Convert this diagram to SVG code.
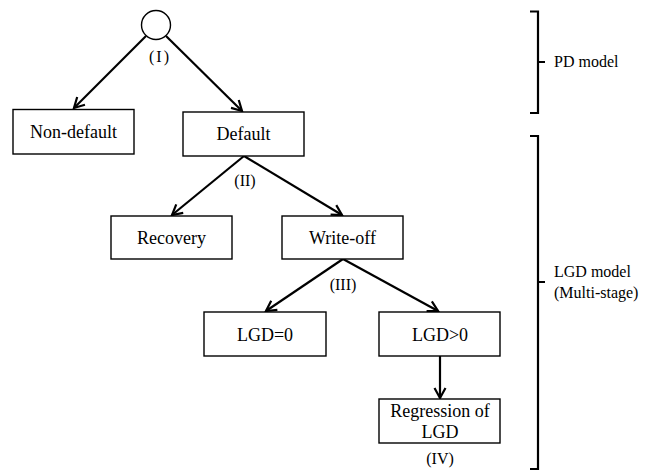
<svg xmlns="http://www.w3.org/2000/svg" width="653" height="474" viewBox="0 0 653 474">
<style>
.box{fill:#fff;stroke:#000;stroke-width:1.4}
text{font-family:"Liberation Serif","Times New Roman",Times,"DejaVu Serif",serif;fill:#000}
.t{font-size:18px;text-anchor:middle}
.lbl{font-size:16px;text-anchor:middle}
.side{font-size:16px}
.arr{stroke:#000;stroke-width:2.2;fill:none;marker-end:url(#ah)}
.br{stroke:#000;stroke-width:2.2;fill:none}
</style>
<defs>
<marker id="ah" markerUnits="userSpaceOnUse" markerWidth="16" markerHeight="16" viewBox="-12 -8 14 16" refX="0" refY="0" orient="auto">
<path d="M-10,-5.5 L0,0 L-10,5.5" fill="none" stroke="#000" stroke-width="2.2"/>
</marker>
</defs>
<g id="connectors">
<line class="arr" x1="146" y1="36" x2="74" y2="108"/>
<line class="arr" x1="166" y1="36" x2="242" y2="111"/>
<line class="arr" x1="244" y1="156" x2="172" y2="215"/>
<line class="arr" x1="244" y1="156" x2="342" y2="215"/>
<line class="arr" x1="343" y1="259" x2="266" y2="311"/>
<line class="arr" x1="343" y1="259" x2="438" y2="311"/>
<line class="arr" x1="440" y1="356" x2="440" y2="398"/>
</g>
<g id="root"><circle cx="156" cy="25" r="14.5" fill="#fff" stroke="#000" stroke-width="1.4"/></g>
<g id="lab1"><text class="lbl" x="160" y="62" letter-spacing="2">(I)</text></g>
<g id="nondefault"><rect class="box" x="13" y="109.5" width="121" height="44.5"/><text class="t" x="73.5" y="138">Non-default</text></g>
<g id="default"><rect class="box" x="183" y="112" width="121" height="44"/><text class="t" x="243.5" y="140">Default</text></g>
<g id="lab2"><text class="lbl" x="245" y="186">(II)</text></g>
<g id="recovery"><rect class="box" x="111" y="216" width="121" height="43"/><text class="t" x="171.5" y="244">Recovery</text></g>
<g id="writeoff"><rect class="box" x="282" y="216" width="121" height="43"/><text class="t" x="342.5" y="244">Write-off</text></g>
<g id="lab3"><text class="lbl" x="343" y="290">(III)</text></g>
<g id="lgd0"><rect class="box" x="204" y="312" width="122" height="44"/><text class="t" x="265" y="341">LGD=0</text></g>
<g id="lgdpos"><rect class="box" x="379" y="312" width="121" height="44"/><text class="t" x="440" y="341">LGD&gt;0</text></g>
<g id="regression"><rect class="box" x="379" y="399" width="121" height="44"/><text class="t" x="440" y="417">Regression of</text><text class="t" x="440" y="438">LGD</text></g>
<g id="lab4"><text class="lbl" x="440" y="464">(IV)</text></g>
<g id="pd-bracket"><path class="br" d="M530,11.5 H538 V113 H530 M538,62 H545"/><text class="side" x="554" y="67">PD model</text></g>
<g id="lgd-bracket"><path class="br" d="M530,136 H538 V469 H530 M538,282 H545"/><text class="side" x="554" y="277">LGD model</text><text class="side" x="554" y="298">(Multi-stage)</text></g>
</svg>
